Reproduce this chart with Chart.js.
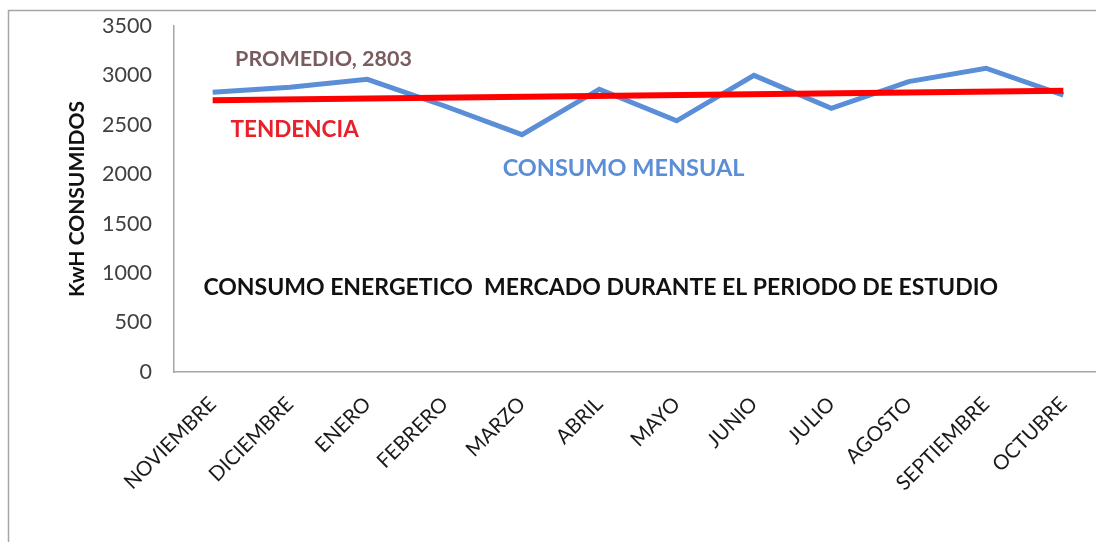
<!DOCTYPE html>
<html>
<head>
<meta charset="utf-8">
<script src="https://cdn.jsdelivr.net/npm/chart.js@4"></script>
<style>
  html, body { margin: 0; padding: 0; background: #ffffff; overflow: hidden; }
  #wrap { position: relative; width: 1110px; height: 542px; }
</style>
</head>
<body>
<div id="wrap"><canvas id="c" width="1110" height="542"></canvas></div>
<script>
// ---- data ----
const categories = ["NOVIEMBRE", "DICIEMBRE", "ENERO", "FEBRERO", "MARZO", "ABRIL", "MAYO", "JUNIO", "JULIO", "AGOSTO", "SEPTIEMBRE", "OCTUBRE"];
const consumoMensual = [2830, 2880, 2960, 2690, 2400, 2860, 2540, 3000, 2667, 2937, 3072, 2800];
const tendencia = [2748, null, null, null, null, null, null, null, null, null, null, 2845];
const yTicks = [0, 500, 1000, 1500, 2000, 2500, 3000, 3500];
const yTitle = "KwH CONSUMIDOS";
const labelPromedio = "PROMEDIO, 2803";
const labelTendencia = "TENDENCIA";
const labelConsumo = "CONSUMO MENSUAL";
const labelTitulo = "CONSUMO ENERGETICO  MERCADO DURANTE EL PERIODO DE ESTUDIO";

const FONT = "Lato, 'Open Sans', sans-serif";

const framePlugin = {
  id: 'frame',
  beforeDraw(chart) {
    const ctx = chart.ctx;
    ctx.save();
    ctx.fillStyle = '#ffffff';
    ctx.fillRect(0, 0, chart.width, chart.height);
    ctx.strokeStyle = '#a6a6a6';
    ctx.lineWidth = 1.5;
    ctx.strokeRect(8.5, 10.5, 1300, 700);
    ctx.restore();
  }
};

const textPlugin = {
  id: 'texts',
  afterDatasetsDraw(chart) {
    const ctx = chart.ctx;
    const xs = chart.scales.x, ys = chart.scales.y;
    const items = [
      { text: labelPromedio, x: 0.29, y: 3160, color: '#7a5c5e', font: 'bold 21.5px ' + FONT },
      { text: labelTendencia, x: 0.23, y: 2450, color: '#e8202a', font: 'bold 22.5px ' + FONT },
      { text: labelConsumo, x: 3.75, y: 2055, color: '#5b8ed6', font: 'bold 23.5px ' + FONT },
      { text: labelTitulo, x: -0.12, y: 855, color: '#111111', font: 'bold 23px ' + FONT }
    ];
    ctx.save();
    ctx.textBaseline = 'middle';
    ctx.textAlign = 'left';
    items.forEach(it => {
      ctx.font = it.font;
      ctx.fillStyle = it.color;
      ctx.fillText(it.text, xs.getPixelForValue(it.x), ys.getPixelForValue(it.y));
    });
    ctx.restore();
  }
};

new Chart(document.getElementById('c'), {
  type: 'line',
  data: {
    labels: categories,
    datasets: [
      {
        label: 'TENDENCIA',
        data: tendencia,
        borderColor: '#ff0000',
        borderWidth: 6,
        pointRadius: 0,
        spanGaps: true,
        tension: 0,
        order: 0,
        borderCapStyle: 'butt'
      },
      {
        label: 'CONSUMO MENSUAL',
        data: consumoMensual,
        borderColor: '#5a8fd8',
        borderWidth: 5,
        pointRadius: 0,
        tension: 0,
        order: 1,
        borderJoinStyle: 'miter'
      }
    ]
  },
  options: {
    responsive: false,
    animation: false,
    devicePixelRatio: 1,
    layout: { padding: { left: 0, right: 8, top: 20, bottom: 0 } },
    plugins: {
      legend: { display: false },
      tooltip: { enabled: false }
    },
    scales: {
      x: {
        type: 'category',
        offset: true,
        grid: { display: false, drawTicks: false },
        border: { display: true, color: '#a6a6a6', width: 1.5 },
        ticks: {
          autoSkip: false,
          maxRotation: 45,
          minRotation: 45,
          padding: 20,
          color: '#1a1a1a',
          font: { family: FONT, size: 20.5 }
        },
        afterFit(scale) { scale.height = 170; }
      },
      y: {
        min: 0,
        max: 3500,
        afterBuildTicks(scale) { scale.ticks = yTicks.map(v => ({ value: v })); },
        grid: { display: true, drawOnChartArea: false, drawTicks: true, tickLength: 9, color: 'rgba(0,0,0,0)' },
        border: { display: true, color: '#a6a6a6', width: 1.5 },
        ticks: {
          padding: 13,
          color: '#404040',
          font: { family: FONT, size: 21.5 },
          callback: (v) => String(v)
        },
        title: {
          display: true,
          text: yTitle,
          color: '#111111',
          font: { family: FONT, size: 21, weight: 'bold' },
          padding: { top: 65, bottom: 0 }
        },
        afterFit(scale) { scale.width = 174; }
      }
    }
  },
  plugins: [framePlugin, textPlugin]
});
</script>
</body>
</html>
